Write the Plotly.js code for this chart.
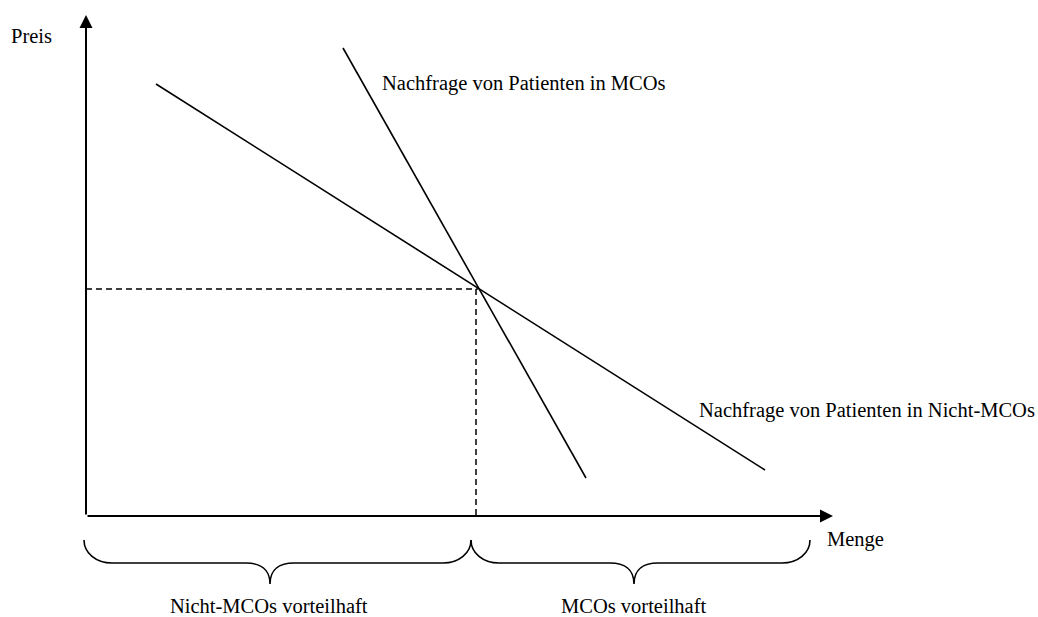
<!DOCTYPE html>
<html>
<head>
<meta charset="utf-8">
<script src="https://cdn.plot.ly/plotly-3.0.1.min.js"></script>
<style>html,body{margin:0;padding:0;background:#fff;}#chart{width:1038px;height:617px;}</style>
</head>
<body>
<div id="chart"></div>
<script>
// Schematic units: origin of the axes at (0,0); quantity to the right, price upward.
const axisEnd = {x: 747, y: 501};              // arrow tips of the quantity / price axes
const demandNonMCO = {q: [70, 679], p: [432, 46]};   // Nachfrage von Patienten in Nicht-MCOs
const demandMCO    = {q: [257, 500], p: [468, 38]};  // Nachfrage von Patienten in MCOs
const equilibrium  = {q: 392, p: 227};
const braceFrom  = [-2, 385];
const braceTo    = [385, 724];
const braceTip   = [184, 548];
const braceLabel = ["Nicht-MCOs vorteilhaft", "MCOs vorteilhaft"];
const labels = {
  price: "Preis", quantity: "Menge",
  mco: "Nachfrage von Patienten in MCOs",
  nonMco: "Nachfrage von Patienten in Nicht-MCOs"
};

const FONT = {family: "Liberation Serif, Times New Roman, serif", size: 20.5, color: "#000"};

const traces = [
  {x: demandNonMCO.q, y: demandNonMCO.p, mode: "lines", line: {color: "#000", width: 1.6}, hoverinfo: "skip"},
  {x: demandMCO.q, y: demandMCO.p, mode: "lines", line: {color: "#000", width: 1.6}, hoverinfo: "skip"},
  {x: [0, equilibrium.q], y: [equilibrium.p, equilibrium.p], mode: "lines", line: {color: "#000", width: 1.5, dash: "6px,4px"}, hoverinfo: "skip"},
  {x: [equilibrium.q - 2, equilibrium.q - 2], y: [equilibrium.p, 0], mode: "lines", line: {color: "#000", width: 1.5, dash: "6px,4px"}, hoverinfo: "skip"}
];

// Brace path in data units
function bracePath(a, b, m) {
  const top = -24, mid = -47, tip = -68;
  const r = 28, rm = 24;
  return `M${a},${top} C${a},${mid+10} ${a+12},${mid} ${a+r},${mid} L${m-rm},${mid} ` +
         `C${m-10},${mid} ${m},${mid-6} ${m},${tip} C${m},${mid-6} ${m+10},${mid} ${m+rm},${mid} ` +
         `L${b-r},${mid} C${b-12},${mid} ${b},${mid+10} ${b},${top}`;
}

const shapes = braceFrom.map((a, i) => ({
  type: "path", xref: "x", yref: "y", path: bracePath(a, braceTo[i], braceTip[i]),
  line: {color: "#000", width: 1.6}
}));

const annotations = [
  // axes with arrow heads
  {x: axisEnd.x, y: 0, ax: 0, ay: 0, xref: "x", yref: "y", axref: "x", ayref: "y",
   showarrow: true, arrowhead: 2, arrowsize: 1.3, arrowwidth: 2, arrowcolor: "#000", text: ""},
  {x: 0, y: axisEnd.y, ax: 0, ay: 0, xref: "x", yref: "y", axref: "x", ayref: "y",
   showarrow: true, arrowhead: 2, arrowsize: 1.3, arrowwidth: 2, arrowcolor: "#000", text: ""},
  {x: -77, y: 480, xref: "x", yref: "y", text: labels.price, showarrow: false, xanchor: "left", yanchor: "middle", font: FONT},
  {x: 739, y: -23, xref: "x", yref: "y", text: labels.quantity, showarrow: false, xanchor: "left", yanchor: "middle", font: FONT},
  {x: 294, y: 433, xref: "x", yref: "y", text: labels.mco, showarrow: false, xanchor: "left", yanchor: "middle", font: FONT},
  {x: 611, y: 106, xref: "x", yref: "y", text: labels.nonMco, showarrow: false, xanchor: "left", yanchor: "middle", font: FONT}
].concat(braceLabel.map((t, i) => ({
  x: braceTip[i] - 1, y: -90, xref: "x", yref: "y", text: t, showarrow: false,
  xanchor: "center", yanchor: "middle", font: FONT
})));

const layout = {
  width: 1038, height: 617,
  margin: {l: 0, r: 0, t: 0, b: 0},
  paper_bgcolor: "#fff", plot_bgcolor: "#fff",
  showlegend: false,
  xaxis: {range: [-86, 952], visible: false, fixedrange: true},
  yaxis: {range: [-101, 516], visible: false, fixedrange: true},
  shapes: shapes,
  annotations: annotations
};

Plotly.newPlot("chart", traces, layout, {staticPlot: true, displayModeBar: false});
</script>
</body>
</html>
